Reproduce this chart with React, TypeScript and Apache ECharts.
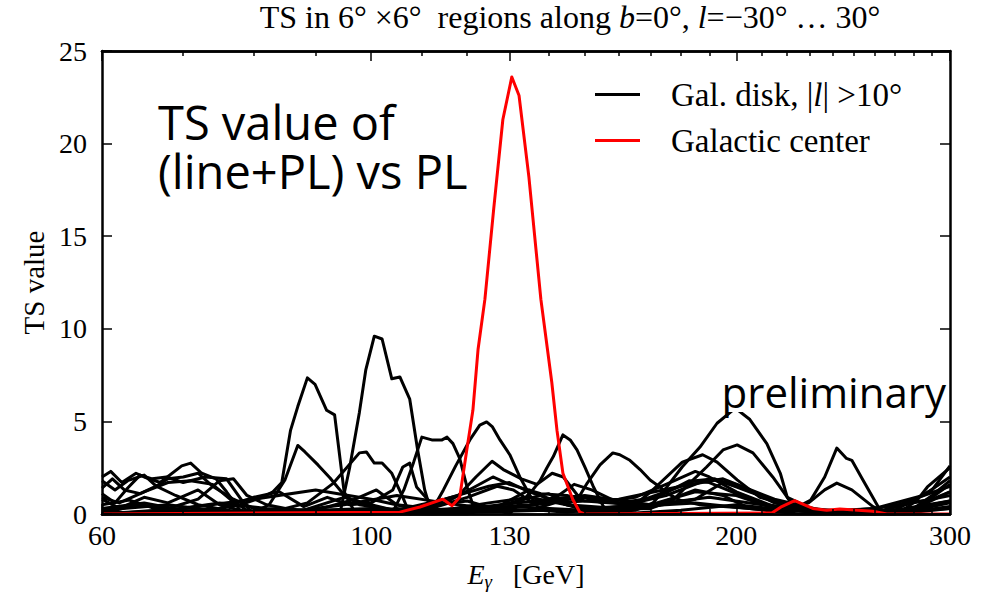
import React, { useEffect, useRef } from "react";
import * as echarts from "echarts";

const BLACK_NAME = "Gal. disk, |l| >10°";
const RED_NAME = "Galactic center";

const E_LABELS = [60, 100, 130, 200, 300];
const E_MINOR = [70, 80, 90, 110, 120, 140, 150, 160, 170, 180, 190, 210, 220, 230, 240, 250, 260, 270, 280, 290];
const TS_TICKS = [0, 5, 10, 15, 20, 25];

const diskA = [[60,0.5],[63.2,0.75],[67,0.2],[72.3,0.1],[78,0.5],[81.3,0.9],[83,1.2],[84.4,1.7],[85.8,4.5],[87,5.8],[88.6,7.35],[89.9,7.0],[91.9,5.6],[93.3,5.35],[95,1.2],[97.1,0],[105,0.3],[112,0.1],[125,0.6],[135,0.9],[150,0.3],[170,0.5],[185,1.2],[200,1.0],[215,0.3],[240,0.1],[270,0.2],[300,0.7]];
const diskB = [[60,1.4],[61.2,1.9],[62.6,1.3],[64.5,1.1],[66.5,1.5],[69,1.0],[72,0.5],[76,0.2],[82,0],[94.3,0.1],[96,2.5],[97.8,5.5],[99,7.8],[100.6,9.6],[102.1,9.45],[104,7.3],[105.6,7.4],[107.6,6.2],[109.2,3.5],[110.7,1.3],[112.2,0],[125,0.2],[140,0.6],[160,0.8],[180,1.5],[195,1.9],[215,0.8],[235,0.2],[260,0],[280,0.8],[300,1.5]];
const diskC = [[60,0.3],[65,0.6],[70,0.2],[76,0],[88,0.2],[95,0.9],[100,0.5],[106,0.1],[111.8,0],[114.7,1.3],[117.4,2.6],[120.6,4.0],[122.9,4.8],[124.5,4.97],[125.9,4.7],[127.7,4.0],[130.1,3.2],[132.6,2.0],[135.2,1.0],[137.8,0.2],[145,0.1],[160,0.4],[175,1.0],[190,1.9],[200,1.6],[215,0.6],[230,0.1],[260,0.3],[285,1.0],[300,2.0]];
const diskD = [[60,0.8],[62,0.3],[65,0.9],[68,0.6],[72,1.3],[75,0.5],[80,0],[100,0],[110,0.4],[120,0.7],[126,0.3],[130,0],[135.9,1.3],[137.8,1.8],[139.6,2.5],[141.3,3.1],[143.9,4.27],[145.9,4.0],[147.8,3.46],[150.1,2.5],[152.4,1.5],[155.4,0.4],[160,0],[180,0.2],[200,0.5],[220,0.2],[250,0],[300,0.3]];
const diskE = [[60,0],[80,0.1],[100,0.3],[120,0.1],[140,0.2],[155,0.1],[165,0.2],[170.7,0.6],[175.3,1.46],[180.5,2.55],[186.6,3.6],[192.8,4.9],[199.6,5.72],[205.2,5.1],[211.9,3.8],[217.4,2.2],[220.3,0.9],[222.8,0.4],[230,0.2],[260,0.1],[280,0.6],[300,1.0]];
const diskF = [[60,0],[70,0.3],[80,0.8],[90,1.3],[100,0.8],[110,0.2],[130,0.4],[150,0.2],[170,0.3],[177.4,0.75],[183.1,1.67],[189,2.54],[195,3.46],[200.3,3.73],[206.4,3.3],[214.3,2.0],[220.3,0.9],[224.4,0.65],[232,0.2],[255,0],[285,0.3],[300,0.6]];
const diskG = [[60,0.1],[90,0],[120,0.3],[150,1.0],[170,0.5],[190,0.9],[210,0.5],[222,0.2],[230.3,0.75],[236.5,2.0],[242,3.56],[246.5,3.0],[249,2.9],[254.3,1.84],[261.7,0.4],[265,0.1],[275,0],[290,0.9],[300,1.6]];
const diskH = [[60,0.2],[68,0.5],[76,0.1],[95,0.2],[115,0.1],[135,0.5],[150,0.9],[165,0.4],[185,0.6],[205,0.3],[220,0.2],[229.4,0.6],[236.5,1.3],[242,1.67],[249,1.3],[259.2,0.4],[265,0.1],[274.3,0.2],[281.9,0.75],[287.4,1.46],[300,2.5]];
const diskI = [[60,1.8],[61.5,1.3],[63,1.8],[65,2.1],[66.5,1.5],[68,1.9],[70,2.0],[72,2.2],[74,1.5],[77,0.8],[80,0.3],[85,0.1],[95,0.5],[105,1.0],[115,0.6],[125,0.3],[135,0.2],[140,0.5],[146,0.9],[148.6,1.0],[150.7,1.67],[154.4,2.65],[158.2,3.3],[160.3,3.2],[163.4,2.9],[166.6,2.4],[169.8,1.84],[173,1.46],[175.3,1.13],[179.7,0.75],[186.6,0.5],[215,0.2],[240,0.1],[260,0],[280,0.1],[300,0.3]];
const diskK = [[60,2.0],[61,2.3],[62.3,1.7],[64,2.2],[65,2.0],[67,1.7],[69.8,2.6],[71,2.75],[72.5,2.2],[74.5,1.9],[76,1.2],[78,0.2],[80,0.1],[82.4,0.5],[84.9,1.84],[87,3.7],[88.2,3.35],[90.4,2.65],[92.5,1.94],[95,1.03],[97.8,0.5],[105,0.2],[115,0.8],[125,1.5],[130,1.7],[135,1.2],[145,0.5],[160,0.3],[175,1.2],[185,1.8],[192,1.9],[205,1.2],[220,0.5],[240,0.1],[270,0],[285,0.5],[300,1.2]];
const diskL = [[60,0],[64,0.5],[68,0.3],[72,0.8],[75,1.8],[77,1.9],[79,1.0],[82,0.5],[85,0.3],[88.6,0.6],[93.1,1.67],[97.8,3.3],[99.1,3.35],[100.6,2.75],[102.1,2.75],[104,2.2],[106.2,0.9],[107.6,0],[115,0.6],[122,1.5],[126,2.0],[130,1.6],[138,1.1],[145,1.0],[150,0.7],[165,0.5],[170,1.2],[180.5,2.8],[187.6,3.2],[192.8,2.8],[200.3,1.84],[209.1,0.9],[217.4,0.6],[230,0.3],[250,0.1],[270,0],[300,0.4]];
const diskM = [[60,0.9],[62,0.6],[65,1.2],[68,1.7],[71,1.8],[74,1.6],[76.5,0.8],[79,0.2],[85,0],[104,0],[106.4,1.3],[108.4,2.8],[110.1,4.15],[112.2,4.0],[114.4,4.0],[115.5,4.15],[116.8,3.8],[118.3,3.0],[119.9,1.5],[121.7,0.2],[128,0.5],[135,1.3],[140,0.8],[150,0.2],[170,0.4],[185,1.3],[195,1.0],[205,0.3],[225,0],[260,0.3],[290,0.8],[300,1.2]];
const diskN = [[60,0.1],[65,0],[75,0.3],[80,0.9],[84,1.2],[88,0.4],[92,0.9],[96,0.5],[100,0.6],[104.2,1.3],[106.2,2.54],[107.6,2.75],[109,1.46],[112,0.6],[118,1.0],[122,2.0],[125.8,2.85],[128.5,2.4],[133,1.9],[137,1.6],[141,2.2],[144,2.0],[148,1.0],[155,0.6],[165,0.9],[175,1.6],[185,2.3],[190,2.0],[200,1.2],[215,0.4],[235,0.1],[260,0],[280,0.3],[290,1.0],[300,1.8]];
const diskO = [[60,0],[68,0.2],[75,0.6],[82,0.3],[90,0.2],[97,0.8],[101,1.3],[105,0.5],[112,0.3],[120,0.9],[127,1.5],[131,1.3],[136,0.6],[142,0.9],[147,1.6],[152,1.3],[160,0.6],[172,0.9],[183,1.8],[190,1.7],[200,1.1],[212,0.5],[230,0.2],[270,0.1],[285,0.4],[300,0.7]];
const diskP = [[60,1.1],[61.5,0.6],[63,1.4],[64.5,2.1],[66,1.9],[67.8,2.0],[70,1.7],[73,2.0],[76,1.9],[78.5,0.6],[80,0],[120,0],[130,0.6],[140,1.1],[147,0.4],[160,0.1],[185,0.8],[195,1.7],[205,1.3],[220,0.4],[240,0],[270,0.2],[290,1.3],[300,2.6]];

const center = [[60,0],[105.6,0.1],[109.7,0.38],[114.6,0.8],[116.6,0.45],[118.3,0.9],[119.9,3.46],[121.3,5.6],[122.5,8.9],[124.1,11.6],[126.2,16.5],[128.4,21.3],[130.6,23.6],[132.4,22.6],[134.9,18.2],[138.0,11.6],[140.9,7.1],[142.3,4.5],[143.9,2.2],[146.7,0.75],[148.6,0.1],[150,0],[213.9,0.05],[218,0.4],[223.4,0.72],[231.2,0.3],[237.4,0.2],[243.4,0.27],[259.1,0.15],[266.1,0],[300,0]];

const DISK_SERIES = [diskA, diskB, diskC, diskD, diskE, diskF, diskG, diskH, diskI, diskK, diskL, diskM, diskN, diskO, diskP];

const SERIF = "'Liberation Serif', 'DejaVu Serif', serif";
const SANS = "'Open Sans', 'DejaVu Sans', sans-serif";
const FRAME = { show: true, lineStyle: { color: "#000", width: 2.5 } };

function xAxisCfg(position: "top" | "bottom", values: number[], len: number, labels: boolean) {
  return {
    type: "log",
    logBase: 10,
    min: 60,
    max: 300,
    position,
    z: 10,
    axisLine: FRAME,
    splitLine: { show: false },
    minorTick: { show: false },
    axisTick: { show: true, inside: true, length: len, customValues: values, lineStyle: { color: "#000", width: 1.5 } },
    axisLabel: labels
      ? { show: true, customValues: E_LABELS, formatter: (v: number) => String(Math.round(v)), color: "#000", fontFamily: SERIF, fontSize: 28, margin: 7 }
      : { show: false },
  };
}

export default function App() {
  const ref = useRef<HTMLDivElement>(null);
  useEffect(() => {
    if (!ref.current) return;
    const chart = echarts.init(ref.current, null, { renderer: "svg" });
    const series: any[] = DISK_SERIES.map((d) => ({
      type: "line",
      name: BLACK_NAME,
      data: d,
      symbol: "none",
      showSymbol: false,
      silent: true,
      emphasis: { disabled: true },
      lineStyle: { color: "#000", width: 3, join: "round" },
      itemStyle: { color: "#000" },
      z: 2,
    }));
    series.push({
      type: "line",
      name: RED_NAME,
      data: center,
      symbol: "none",
      showSymbol: false,
      silent: true,
      emphasis: { disabled: true },
      lineStyle: { color: "#ff0000", width: 3, join: "round" },
      itemStyle: { color: "#ff0000" },
      z: 3,
    });
    const x0 = xAxisCfg("bottom", E_LABELS, 10, true) as any;
    x0.name = "{i|E}{s|γ}   [GeV]";
    x0.nameLocation = "middle";
    x0.nameGap = 44;
    x0.nameTextStyle = {
      color: "#000",
      fontFamily: SERIF,
      fontSize: 28,
      rich: {
        i: { fontFamily: SERIF, fontSize: 28, fontStyle: "italic", color: "#000" },
        s: { fontFamily: SERIF, fontSize: 19, fontStyle: "italic", color: "#000", padding: [14, 0, 0, 0] },
      },
    };
    const yCfg = (position: "left" | "right", labels: boolean) => ({
      type: "value",
      min: 0,
      max: 25,
      interval: 5,
      position,
      z: 10,
      axisLine: FRAME,
      splitLine: { show: false },
      axisTick: { show: true, inside: true, length: 10, lineStyle: { color: "#000", width: 1.5 } },
      axisLabel: labels
        ? { show: true, color: "#000", fontFamily: SERIF, fontSize: 28, margin: 15, customValues: TS_TICKS }
        : { show: false },
    });
    const y0: any = yCfg("left", true);
    y0.name = "TS value";
    y0.nameLocation = "middle";
    y0.nameGap = 51;
    y0.nameTextStyle = { color: "#000", fontFamily: SERIF, fontSize: 29 };
    chart.setOption({
      animation: false,
      backgroundColor: "#fff",
      grid: { left: 102, right: 41, top: 51, bottom: 87, show: false, containLabel: false },
      xAxis: [x0, xAxisCfg("bottom", E_MINOR, 5, false), xAxisCfg("top", E_LABELS, 10, false), xAxisCfg("top", E_MINOR, 5, false)],
      yAxis: [y0, yCfg("right", false)],
      legend: {
        data: [BLACK_NAME, RED_NAME],
        orient: "vertical",
        left: 590,
        top: 73,
        icon: "rect",
        itemWidth: 45,
        itemHeight: 3,
        itemGap: 13,
        selectedMode: false,
        formatter: (n: string) => (n === BLACK_NAME ? "Gal. disk, |{i|l}| >10°" : n),
        textStyle: {
          color: "#000",
          fontFamily: SERIF,
          fontSize: 33,
          lineHeight: 31,
          padding: [0, 0, 0, 26],
          rich: { i: { fontFamily: SERIF, fontSize: 33, lineHeight: 31, fontStyle: "italic", color: "#000" } },
        },
      },
      graphic: [
        {
          type: "text",
          x: 570,
          y: 17,
          style: {
            text: "TS in 6° ×6°  regions along {i|b}=0°, {i|l}=−30° … 30°",
            fontFamily: SERIF,
            fontSize: 32,
            fill: "#000",
            align: "center",
            verticalAlign: "middle",
            rich: { i: { fontFamily: SERIF, fontSize: 32, fontStyle: "italic", fill: "#000" } },
          },
        },
        {
          type: "text",
          x: 158,
          y: 99,
          z: 10,
          style: {
            text: "TS value of",
            fontFamily: SANS,
            fontSize: 47,
            lineHeight: 45,
            fill: "#000",
            align: "left",
            verticalAlign: "top",
          },
        },
        {
          type: "text",
          x: 158,
          y: 148,
          z: 10,
          style: {
            text: "(line+PL) vs PL",
            fontFamily: SANS,
            fontSize: 47,
            lineHeight: 45,
            fill: "#000",
            align: "left",
            verticalAlign: "top",
          },
        },
        {
          type: "text",
          x: 946,
          y: 391,
          z: 10,
          style: {
            text: "preliminary",
            fontFamily: SANS,
            fontSize: 42,
            fill: "#000",
            align: "right",
            verticalAlign: "middle",
            backgroundColor: "#fff",
          },
        },
      ],
      series,
    });
    return () => chart.dispose();
  }, []);
  return <div ref={ref} style={{ position: "fixed", left: 0, top: 0, width: 991, height: 601 }} />;
}
